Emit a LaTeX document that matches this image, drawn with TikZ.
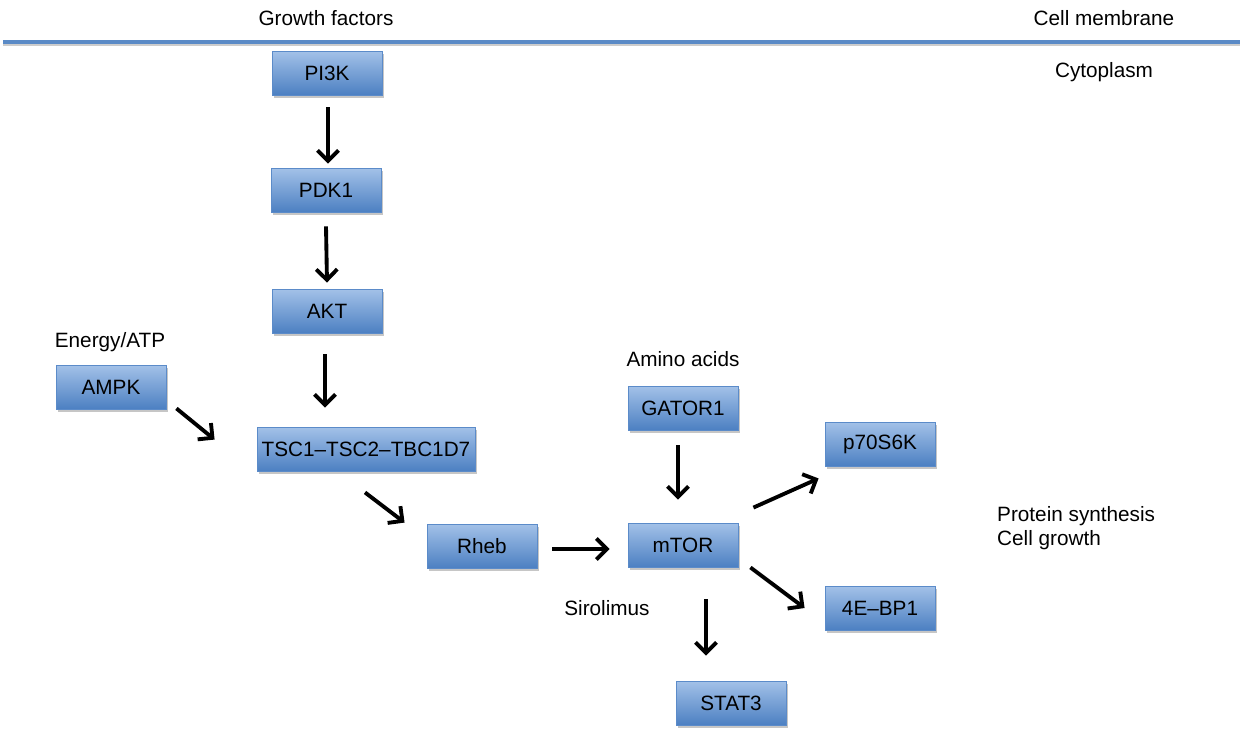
\documentclass[tikz,border=0pt]{standalone}
\usepackage{fontspec}
\setmainfont{Liberation Sans}
\usetikzlibrary{arrows.meta,shadows}
\definecolor{boxtop}{HTML}{A3C1E8}
\definecolor{boxbot}{HTML}{4C80C2}
\definecolor{boxline}{HTML}{5B8BC9}
\definecolor{membrane}{HTML}{5A8AC6}
\begin{document}
\begin{tikzpicture}[x=0.02cm,y=-0.02cm,>={Straight Barb[length=6pt,width=12pt]},
  font=\fontsize{11.8}{14}\selectfont,
  prot/.style={draw=boxline, line width=0.5pt, top color=boxtop, bottom color=boxbot,
    minimum width=2.2cm, minimum height=0.88cm, inner sep=2pt,
    drop shadow={shadow xshift=1.2pt, shadow yshift=-1.8pt, opacity=0.45}},
  act/.style={->, line width=2.2pt}]
        \useasboundingbox (0,0) rectangle (1240,731);
        % Membrane
        \draw[gray!40, line width=1.2pt] (3,45) -- (1240,45);
        \draw[membrane, line width=2pt] (3,42) -- (1240,42);
        \node (growth) at (326,18) {Growth factors};
        \node (membr) at (1104,18) {Cell membrane};
        \node (cyto) at (1104,72) {Cytoplasm};
        % Growth factor branch
        \node[prot] (pik) at (327,73) {PI3K};
        \node[prot] (pdk) at (326,190) {PDK1};
        \node[prot] (akt) at (327,311) {AKT};
        \node[prot, minimum width=4.36cm] (tsc) at (366,449) {TSC1–TSC2–TBC1D7};
        \node[prot] (rheb) at (482,546) {Rheb};
        % Energy branch
        \node (energy) at (110,342) {Energy/ATP};
        \node[prot] (ampk) at (111,387) {AMPK};
        % Amino acid branch
        \node (amino) at (683,359) {Amino acids};
        \node[prot] (gator) at (683,408) {GATOR1};
        \node[prot] (mtor) at (683,545) {mTOR};
        % Downstream targets
        \node[prot] (ps6k) at (880,444) {p70S6K};
        \node[prot] (ebp) at (880,608) {4E–BP1};
        \node[prot] (stat) at (731,703) {STAT3};
        \node (siro) at (607,608) {Sirolimus};
        \node[anchor=north west, align=left] (prot) at (991,500) {Protein synthesis\\Cell growth};
        % Arrows
        \draw[act] ([shift={(1,12)}]pik.south) -- ([shift={(2,-4)}]pdk.north);
        \draw[act] ([shift={(0,14)}]pdk.south) -- ([shift={(0,-6)}]akt.north);
        \draw[act] ([shift={(-2,21)}]akt.south) -- ([shift={(-41,-19)}]tsc.north);
        \draw[act] ([shift={(10,-1)}]ampk.south east) -- ([shift={(-42,13)}]tsc.north west);
        \draw[act] ([shift={(-1,21)}]tsc.south) -- ([shift={(-22,-1)}]rheb.north west);
        \draw[act] ([shift={(15,3)}]rheb.east) -- ([shift={(-18,4)}]mtor.west);
        \draw[act] ([shift={(-5,15)}]gator.south) -- ([shift={(-5,-23)}]mtor.north);
        \draw[act] ([shift={(15,-15)}]mtor.north east) -- ([shift={(-6,12)}]ps6k.south west);
        \draw[act] ([shift={(12,0)}]mtor.south east) -- ([shift={(-20,0)}]ebp.west);
        \draw[act] ([shift={(23,32)}]mtor.south) -- ([shift={(-25,-25)}]stat.north);
\end{tikzpicture}
\end{document}
